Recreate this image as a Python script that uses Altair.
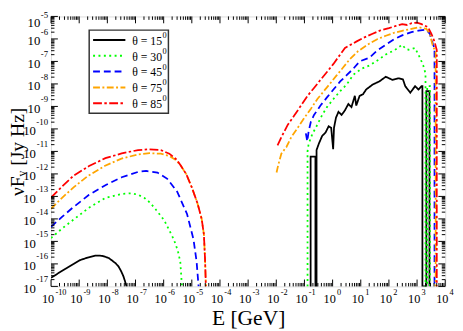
import altair as alt
import pandas as pd

labels = ["θ = 15⁰", "θ = 30⁰", "θ = 45⁰", "θ = 75⁰", "θ = 85⁰"]
legend_text = ["θ = 15", "θ = 30", "θ = 45", "θ = 75", "θ = 85"]
colors = ["#000000", "#00ff00", "#0000ff", "#ffa500", "#ff0000"]
dashes = [[1, 0], [2, 3.5], [7, 4], [7, 2.5, 2, 2.5], [9, 2.5, 2.5, 2.5]]

# low-energy component (log10 E [GeV], log10 nuF_nu [Jy Hz])
lo15_E = [-10, -9.7, -9.45, -9.2, -8.99, -8.7, -8.41, -8.18, -7.95, -7.84, -7.7, -7.6, -7.5, -7.43, -7.37, -7.32]
lo15_F = [-16.62, -16.38, -16.19, -16.0, -15.84, -15.72, -15.63, -15.64, -15.74, -15.84, -15.98, -16.12, -16.35, -16.55, -16.78, -17.0]
lo30_E = [-10, -9.6, -9.23, -8.65, -8.07, -7.49, -7.14, -6.9, -6.68, -6.5, -6.33, -5.98, -5.64, -5.5, -5.41, -5.35]
lo30_F = [-14.85, -14.42, -14.06, -13.5, -13.07, -12.89, -12.86, -12.93, -13.07, -13.26, -13.5, -14.06, -14.91, -15.4, -15.9, -17.0]
lo45_E = [-10, -9.6, -9.23, -8.65, -8.07, -7.49, -6.91, -6.62, -6.22, -5.87, -5.52, -5.17, -4.94, -4.83, -4.76]
lo45_F = [-14.35, -13.9, -13.5, -12.93, -12.5, -12.15, -11.91, -11.87, -11.94, -12.22, -12.79, -13.78, -14.91, -15.9, -17.0]
lo75_E = [-10, -9.6, -9.2, -8.7, -8.1, -7.5, -6.9, -6.5, -6.1, -5.8, -5.55, -5.4, -5.2, -5.0, -4.8, -4.65, -4.57, -4.53, -4.5]
lo75_F = [-13.55, -13.05, -12.6, -12.1, -11.65, -11.32, -11.13, -11.08, -11.1, -11.2, -11.4, -11.62, -12.0, -12.6, -13.3, -14.0, -14.7, -15.8, -17.0]
lo85_E = [-10, -9.6, -9.2, -8.65, -8.07, -7.49, -6.91, -6.56, -6.1, -5.8, -5.55, -5.4, -5.2, -5.0, -4.8, -4.65, -4.57, -4.53, -4.5]
lo85_F = [-13.05, -12.55, -12.08, -11.65, -11.3, -11.09, -10.94, -10.91, -10.94, -11.1, -11.35, -11.62, -12.0, -12.6, -13.3, -14.0, -14.7, -15.8, -17.0]

# high-energy component (histogram, empty bins drawn at the axis floor 1e-17)
hi15_E = [-0.8, -0.78, -0.78, -0.61, -0.61, -0.57, -0.57, -0.49, -0.37, -0.25, -0.14, -0.05, 0.02, 0.05, 0.12, 0.21, 0.32, 0.44, 0.56, 0.67, 0.79, 0.84, 0.96, 1.08, 1.19, 1.42, 1.66, 1.89, 2.12, 2.35, 2.5, 2.58, 2.76, 2.93, 3.05, 3.16, 3.19, 3.19, 3.33, 3.33, 3.44, 3.44]
hi15_F = [-17, -17, -11.23, -11.23, -17, -17, -10.94, -10.66, -10.31, -10.16, -9.88, -9.95, -10.9, -9.95, -9.5, -9.24, -9.38, -9.17, -8.89, -9.03, -8.53, -8.96, -8.53, -8.46, -8.25, -8.03, -7.89, -7.68, -7.82, -7.75, -7.8, -8.1, -8.39, -8.1, -8.25, -8.1, -8.1, -17, -17, -8.32, -8.32, -17]
hi30_E = [-0.89, -0.89, -0.85, -0.72, -0.54, -0.37, -0.2, 0.03, 0.27, 0.5, 0.73, 1.02, 1.31, 1.6, 1.89, 2.2, 2.47, 2.6, 2.7, 2.93, 3.1, 3.22, 3.3, 3.3, 3.36, 3.36, 3.46, 3.46]
hi30_F = [-17, -11.0, -10.66, -10.23, -9.81, -9.38, -9.03, -8.67, -8.32, -8.03, -7.6, -7.33, -7.18, -6.95, -6.69, -6.5, -6.26, -6.45, -6.48, -6.4, -6.83, -7.18, -7.54, -17, -17, -8.1, -8.1, -17]
hi45_E = [-0.95, -0.9, -0.85, -0.77, -0.66, -0.43, -0.2, 0.03, 0.27, 0.5, 0.73, 0.96, 1.31, 1.6, 1.89, 2.2, 2.47, 2.8, 3.05, 3.33, 3.45, 3.57, 3.62, 3.62]
hi45_F = [-10.2, -10.55, -10.1, -9.67, -9.38, -8.96, -8.6, -8.25, -7.89, -7.61, -7.33, -7.0, -6.83, -6.5, -6.26, -6.0, -5.84, -5.7, -5.63, -5.58, -5.77, -6.26, -6.4, -17]
hi75_E = [-1.99, -1.93, -1.82, -1.64, -1.47, -1.24, -1.01, -0.77, -0.54, -0.31, -0.08, 0.15, 0.38, 0.61, 0.9, 1.31, 1.6, 1.89, 2.2, 2.47, 2.8, 3.05, 3.33, 3.45, 3.55, 3.66, 3.66]
hi75_F = [-11.94, -11.6, -11.1, -10.8, -10.37, -9.95, -9.52, -9.1, -8.67, -8.32, -7.97, -7.61, -7.26, -6.9, -6.55, -6.2, -6.0, -5.86, -5.72, -5.64, -5.55, -5.48, -5.55, -5.77, -6.26, -6.6, -17]
hi85_E = [-1.955, -1.82, -1.59, -1.35, -1.12, -0.89, -0.66, -0.43, -0.2, 0.03, 0.27, 0.44, 0.84, 1.1, 1.42, 1.7, 2.0, 2.25, 2.47, 2.65, 2.81, 3.0, 3.16, 3.39, 3.51, 3.62, 3.7, 3.7]
hi85_F = [-10.73, -10.37, -9.81, -9.38, -8.96, -8.53, -8.18, -7.82, -7.47, -7.11, -6.69, -6.4, -6.12, -5.95, -5.77, -5.62, -5.52, -5.42, -5.34, -5.38, -5.3, -5.28, -5.34, -5.48, -5.77, -6.12, -6.5, -17]

x_exps = list(range(-10, 5))
y_exps = list(range(-17, -4))

series = [
    (labels[0], lo15_E, lo15_F, hi15_E, hi15_F),
    (labels[1], lo30_E, lo30_F, hi30_E, hi30_F),
    (labels[2], lo45_E, lo45_F, hi45_E, hi45_F),
    (labels[3], lo75_E, lo75_F, hi75_E, hi75_F),
    (labels[4], lo85_E, lo85_F, hi85_E, hi85_F),
]
rows = []
for lab, le, lf, he, hf in series:
    for seg, es, fs in (("lo", le, lf), ("hi", he, hf)):
        for i, (e, f) in enumerate(zip(es, fs)):
            rows.append({"label": lab, "seg": lab + seg, "idx": i, "E": 10.0 ** e, "F": 10.0 ** f})
df = pd.DataFrame(rows)

W, H = 403, 276
FONT = "Liberation Serif"

x_enc = alt.X("E:Q", scale=alt.Scale(type="log", domain=[1e-10, 1e4]),
              axis=alt.Axis(values=[10.0 ** k for k in x_exps], labelExpr="'10'",
                            ticks=False, tickSize=0, domain=False, grid=False,
                            labelFont=FONT, labelFontSize=12.5, labelColor="black",
                            labelPadding=16, labelBaseline="alphabetic", labelAlign="center",
                            labelOffset=-3.5, labelOverlap=False, labelFlush=False,
                            title="E [GeV]", titleFont=FONT, titleFontSize=22, titleFontWeight="normal",
                            titleColor="black", titleBaseline="alphabetic", titleY=39))
y_enc = alt.Y("F:Q", scale=alt.Scale(type="log", domain=[1e-17, 1e-5]),
              axis=alt.Axis(values=[10.0 ** k for k in y_exps], labelExpr="'10'",
                            ticks=False, tickSize=0, domain=False, grid=False,
                            labelFont=FONT, labelFontSize=13, labelColor="black",
                            labelPadding={"condition": {"test": "datum.value < 5e-10", "value": 16}, "value": 11.5},
                            labelOffset={"condition": {"test": "datum.value > 5e-6", "value": 6}, "value": 2},
                            labelBaseline="middle", labelOverlap=False, labelFlush=False,
                            title="νFᵥ [Jy Hz]", titleFont=FONT, titleFontSize=20, titleFontWeight="normal",
                            titleColor="black", titleBaseline="alphabetic", titleX=-28))

lines = alt.Chart(df).mark_line(clip=True, strokeCap="butt", strokeWidth=1.8).encode(
    x=x_enc, y=y_enc,
    color=alt.Color("label:N", scale=alt.Scale(domain=labels, range=colors), legend=None),
    strokeDash=alt.StrokeDash("label:N", scale=alt.Scale(domain=labels, range=dashes), legend=None),
    detail="seg:N",
    order="idx:Q",
)

xmaj = pd.DataFrame({"E": [10.0 ** k for k in x_exps], "exp": [str(k) for k in x_exps]})
xmin = pd.DataFrame({"E": [m * 10.0 ** k for k in x_exps[:-1] for m in range(2, 10)]})
ymaj = pd.DataFrame({"F": [10.0 ** k for k in y_exps], "exp": [str(k) for k in y_exps]})
ymin = pd.DataFrame({"F": [m * 10.0 ** k for k in y_exps[:-1] for m in range(2, 10)]})

MAJ, MIN = 7, 3.5


def rule(d):
    return alt.Chart(d).mark_rule(color="black", strokeWidth=1)


ticks = [
    rule(xmaj).encode(x=x_enc, y=alt.value(H), y2=alt.value(H - MAJ)),
    rule(xmaj).encode(x=x_enc, y=alt.value(0), y2=alt.value(MAJ)),
    rule(xmin).encode(x=x_enc, y=alt.value(H), y2=alt.value(H - MIN)),
    rule(xmin).encode(x=x_enc, y=alt.value(0), y2=alt.value(MIN)),
    rule(ymaj).encode(y=y_enc, x=alt.value(0), x2=alt.value(MAJ)),
    rule(ymaj).encode(y=y_enc, x=alt.value(W), x2=alt.value(W - MAJ)),
    rule(ymin).encode(y=y_enc, x=alt.value(0), x2=alt.value(MIN)),
    rule(ymin).encode(y=y_enc, x=alt.value(W), x2=alt.value(W - MIN)),
]

# superscript exponents of the tick labels
x_sup = alt.Chart(xmaj).mark_text(font=FONT, fontSize=8.5, align="left", baseline="alphabetic",
                                  dx=4.5, clip=False, color="black").encode(
    x=x_enc, y=alt.value(H + 9), text="exp:N")
y_sup_main = alt.Chart(ymaj[ymaj["exp"] != "-5"]).mark_text(
    font=FONT, fontSize=9, align="right", baseline="alphabetic", dy=-4.5, color="black").encode(
    y=y_enc, x=alt.value(-3), text="exp:N")
y_sup_top = alt.Chart(ymaj[ymaj["exp"] == "-5"]).mark_text(
    font=FONT, fontSize=9, align="right", baseline="alphabetic", dy=2, color="black").encode(
    y=y_enc, x=alt.value(-3), text="exp:N")

# legend box drawn inside the plot
LX0, LX1, LY0, LY1 = 39, 120, 14, 99
row_y = [24, 40.2, 56.4, 72.6, 88.8]
legend_layers = [
    alt.Chart(pd.DataFrame({"a": [0]})).mark_rect(fill="white", stroke="#333333", strokeWidth=1.5).encode(
        x=alt.value(LX0), x2=alt.value(LX1), y=alt.value(LY0), y2=alt.value(LY1))
]
for t, c, d, yy in zip(legend_text, colors, dashes, row_y):
    one = pd.DataFrame({"t": [t]})
    legend_layers.append(alt.Chart(one).mark_rule(strokeWidth=2, strokeCap="butt").encode(
        x=alt.value(43), x2=alt.value(76), y=alt.value(yy), color=alt.value(c), strokeDash=alt.value(d)))
    legend_layers.append(alt.Chart(one).mark_text(font=FONT, fontSize=12, align="left", baseline="middle",
                                                  color="black").encode(
        x=alt.value(83), y=alt.value(yy + 1), text="t:N"))
    legend_layers.append(alt.Chart(pd.DataFrame({"s": ["0"]})).mark_text(
        font=FONT, fontSize=8.5, align="left", baseline="alphabetic", color="black").encode(
        x=alt.value(114), y=alt.value(yy - 2), text="s:N"))

chart = alt.layer(lines, *ticks, x_sup, y_sup_main, y_sup_top, *legend_layers).properties(
    width=W, height=H,
    padding={"left": 44, "top": 5, "right": 10, "bottom": 43},
    autosize=alt.AutoSizeParams(type="none"),
).configure_view(
    stroke="black", strokeWidth=2
).configure(font=FONT)

chart.save("out.html", embed_options={"renderer": "svg", "actions": False})
